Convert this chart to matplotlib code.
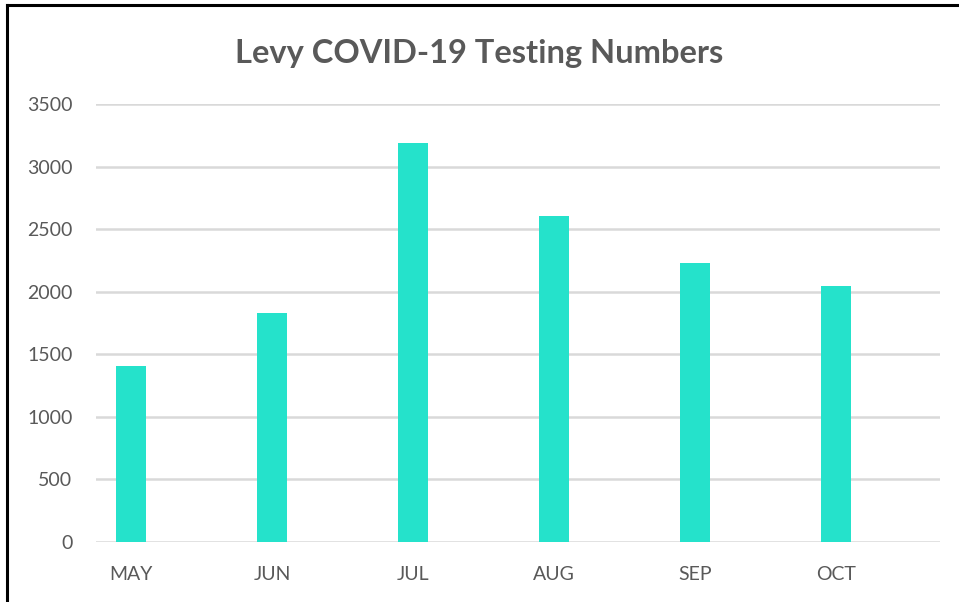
import matplotlib
matplotlib.use("Agg")
from matplotlib import pyplot as plt
from matplotlib.lines import Line2D

months = ["MAY", "JUN", "JUL", "AUG", "SEP", "OCT"]
tests = [1405, 1832, 3192, 2606, 2233, 2046]
y_ticks = [0, 500, 1000, 1500, 2000, 2500, 3000, 3500]

bar_color = "#25E2CB"
text_color = "#595959"
grid_color = "#D9D9D9"

plt.rcParams["font.family"] = ["Lato", "DejaVu Sans"]

fig = plt.figure(figsize=(9.59, 6.02), dpi=100)
ax = fig.add_axes([96 / 959, 60 / 602, 844 / 959, 438 / 602])

x = list(range(len(months)))
ax.bar(x, tests, width=0.213, color=bar_color, zorder=3)

ax.set_xlim(-0.248, 5.738)
ax.set_ylim(0, 3500)
ax.set_yticks(y_ticks)
ax.set_xticks(x)
ax.set_xticklabels(months)
ax.yaxis.grid(True, color=grid_color, linewidth=1.8, zorder=0)
ax.set_axisbelow(True)
for side in ["top", "right", "left", "bottom"]:
    ax.spines[side].set_visible(False)
ax.tick_params(axis="both", length=0, labelsize=14, colors=text_color)
ax.tick_params(axis="y", pad=17)
ax.tick_params(axis="x", pad=17)

fig.text(0.5, 1 - 53 / 602, "Levy COVID-19 Testing Numbers", ha="center", va="center",
         fontsize=23.5, fontweight="bold", color=text_color)

# black frame around the chart (top and left edges visible)
fig.add_artist(Line2D([7 / 959, 1.0], [1 - 5 / 602, 1 - 5 / 602], color="black", linewidth=2.2))
fig.add_artist(Line2D([7 / 959, 7 / 959], [0, 1 - 5 / 602], color="black", linewidth=2.2))

fig.savefig("out.png", dpi=100, facecolor="white")
